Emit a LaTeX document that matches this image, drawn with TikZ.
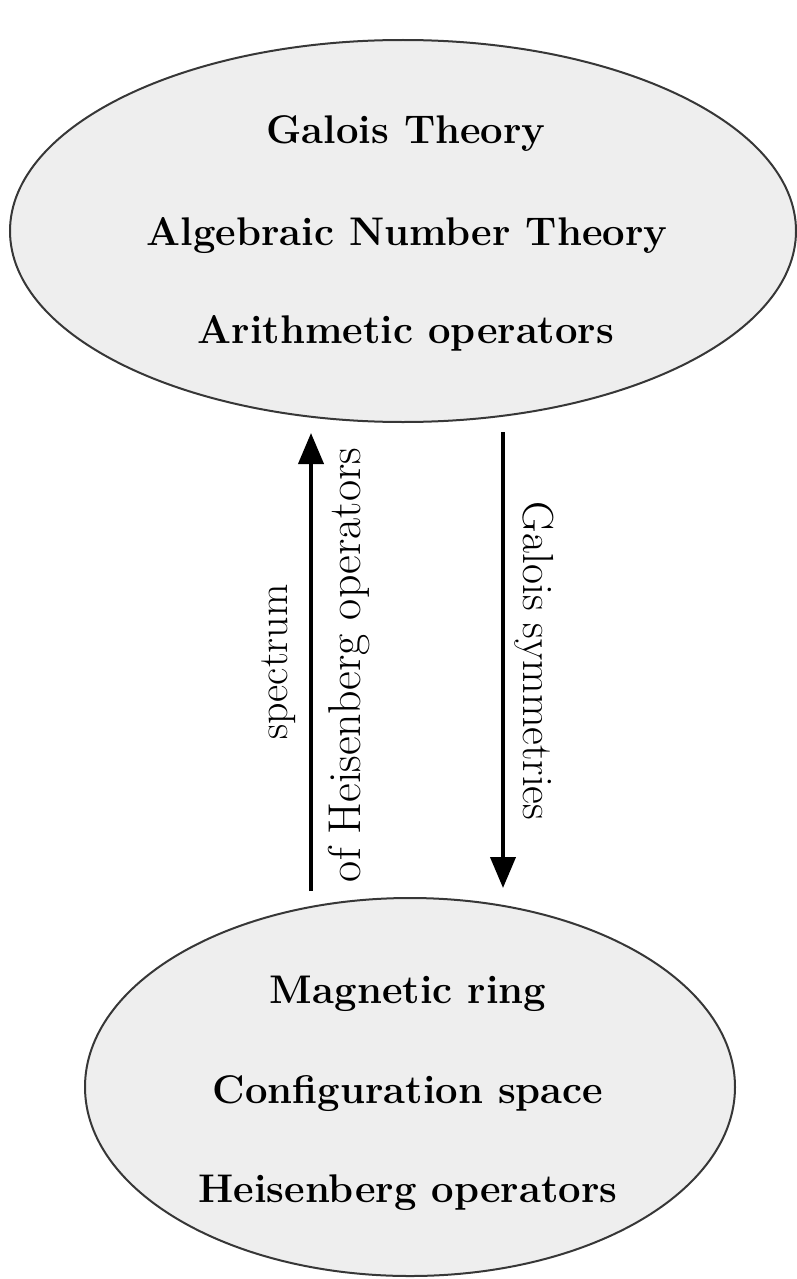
\documentclass[tikz,border=0pt]{standalone}
\usetikzlibrary{arrows.meta,shapes.geometric}
\definecolor{ellfill}{RGB}{238,238,238}
\definecolor{ellline}{RGB}{55,55,55}
\tikzset{
  bigell/.style={ellipse, draw=ellline, line width=2pt, fill=ellfill, inner sep=0pt},
  bigtext/.style={font=\fontsize{40}{100}\selectfont\bfseries, anchor=base, inner sep=0pt},
  sidetext/.style={inner sep=0pt}
}
\tikzset{bigarrow/.style={line width=4pt, -{Triangle[length=31pt,width=25pt]}}}
\begin{document}
\begin{tikzpicture}[x=1pt,y=-1pt]
\useasboundingbox (0,0) rectangle (797,1279);
% ellipses
\node[bigell, minimum width=786pt, minimum height=382pt] (top) at (403,231) {};
\node[bigell, minimum width=650pt, minimum height=378pt] (bot) at (410,1087) {};
% texts in top ellipse
\node[bigtext] (t1) at (406,143) {Galois Theory};
\node[bigtext] (t2) at (407,245) {Algebraic Number Theory};
\node[bigtext] (t3) at (406,343) {Arithmetic operators};
% texts in bottom ellipse
\node[bigtext] (b1) at (408,1003) {Magnetic ring};
\node[bigtext] (b2) at (408,1103) {Configuration space};
\node[bigtext] (b3) at (408,1202) {Heisenberg operators};
% arrows
\coordinate (upS) at (311,891);
\coordinate (upE) at (311,433);
\coordinate (dnS) at (503,432);
\coordinate (dnE) at (503,888);
\draw[bigarrow] (upS) -- (upE);
\draw[bigarrow] (dnS) -- (dnE);
% labels
\node[sidetext, font=\fontsize{42}{46}\selectfont, rotate=90] (l1) at (279,662) {spectrum};
\node[sidetext, font=\fontsize{46}{50}\selectfont, rotate=90] (l2) at (349,665) {of Heisenberg operators};
\node[sidetext, font=\fontsize{43.5}{48}\selectfont, rotate=-90] (l3) at (534,661) {Galois symmetries};
\end{tikzpicture}
\end{document}
